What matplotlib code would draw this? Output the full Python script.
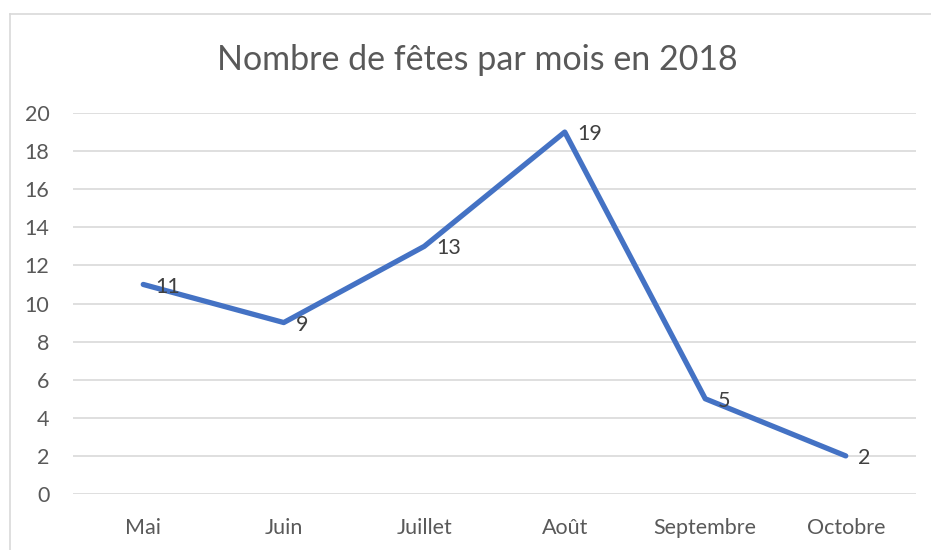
import matplotlib
matplotlib.use("Agg")
import matplotlib.pyplot as plt
from matplotlib.lines import Line2D

plt.rcParams["font.family"] = ["Lato", "DejaVu Sans"]

mois = ["Mai", "Juin", "Juillet", "Août", "Septembre", "Octobre"]
fetes = [11, 9, 13, 19, 5, 2]
yticks = [0, 2, 4, 6, 8, 10, 12, 14, 16, 18, 20]

grey_txt = "#595959"

fig = plt.figure(figsize=(9.31, 5.5), dpi=100)
ax = fig.add_axes([73 / 931, 56 / 550, 843 / 931, 381 / 550])

x = list(range(len(mois)))
ax.plot(x, fetes, color="#4472C4", lw=3.8, solid_capstyle="round", zorder=3)
for xi, v in zip(x, fetes):
    ax.annotate(str(v), (xi, v), xytext=(9, -1.5), textcoords="offset points",
                ha="left", va="center", fontsize=15.5, color="#404040", zorder=4)

ax.set_xlim(-0.5, len(mois) - 0.5)
ax.set_ylim(0, 20)
ax.set_yticks(yticks)
ax.set_xticks(x)
ax.set_xticklabels(mois)
ax.grid(axis="y", color="#D9D9D9", lw=1.2)
ax.set_axisbelow(True)
for s in ax.spines.values():
    s.set_visible(False)
ax.tick_params(length=0, labelsize=15.5, labelcolor=grey_txt)
ax.tick_params(axis="y", pad=17)
ax.tick_params(axis="x", pad=17)

fig.text(477 / 931, 1 - 60 / 550, "Nombre de fêtes par mois en 2018",
         ha="center", va="center", fontsize=24.5, color=grey_txt)

# cadre du graphique
fig.add_artist(Line2D([9.5 / 931, 9.5 / 931], [0, 1 - 14 / 550],
                      transform=fig.transFigure, color="#D9D9D9", lw=1.2))
fig.add_artist(Line2D([9.5 / 931, 1], [1 - 14 / 550, 1 - 14 / 550],
                      transform=fig.transFigure, color="#D9D9D9", lw=1.2))

fig.savefig("out.png", dpi=100)
